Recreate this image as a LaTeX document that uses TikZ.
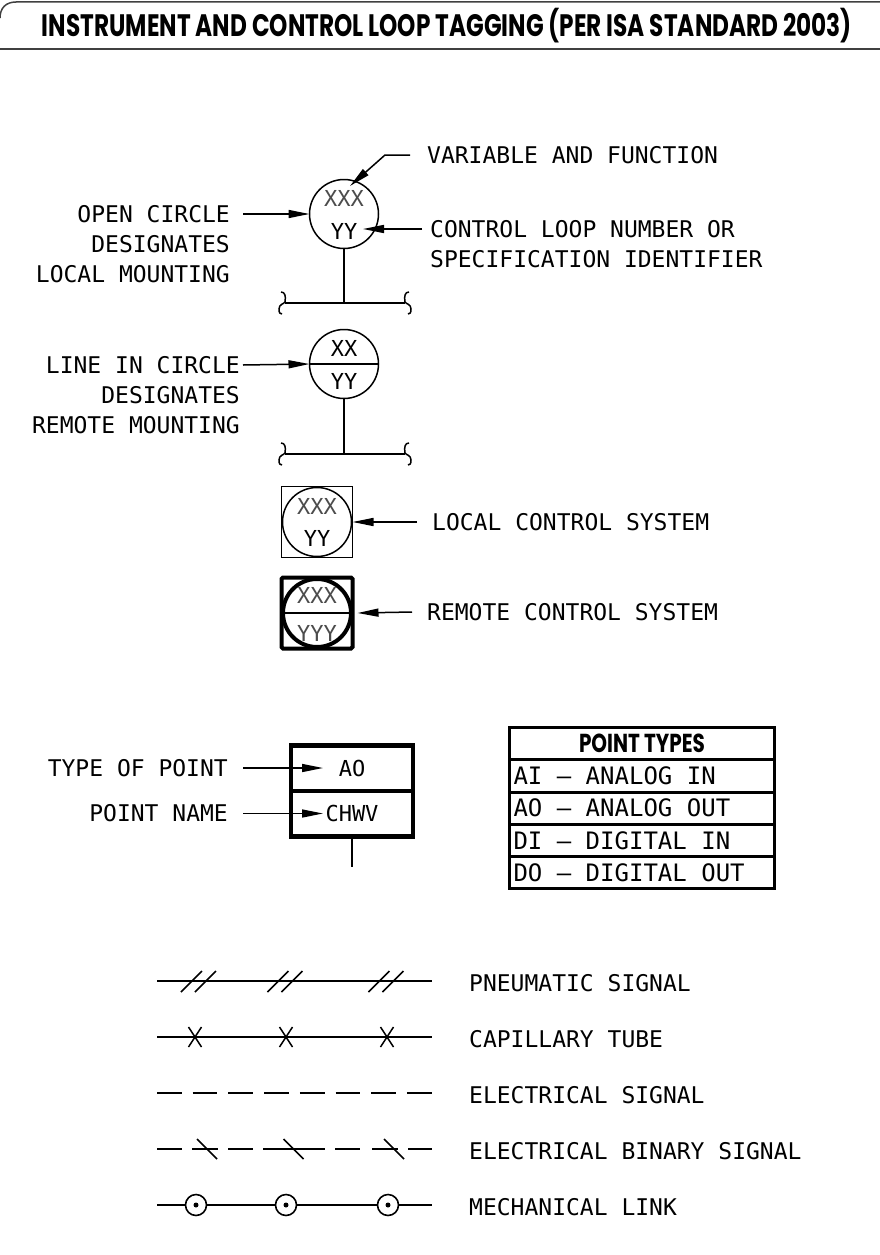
\documentclass[tikz,border=0pt]{standalone}
\usepackage{graphicx}
\usepackage{fontspec}
\setmainfont{DejaVu Sans Mono}
\newfontfamily\headfont{Poppins}
\usetikzlibrary{positioning}
\usetikzlibrary{arrows.meta}
\usetikzlibrary{calc}
\colorlet{hatchCol}{black!70}

\tikzset{
  lbl/.style={font=\fontsize{23}{28}\selectfont, inner sep=0pt},
  tagtxt/.style={font=\fontsize{22}{24}\selectfont, inner sep=0pt},
  instr/.style={circle, draw, line width=1.5pt, minimum size=69pt, inner sep=0pt, outer sep=0pt},
  sysbox/.style={draw, inner sep=0pt, outer sep=0pt},
  tagarrow/.style={line width=1.5pt, -{Triangle[length=21pt,width=8pt]}},
  thinline/.style={line width=1.5pt},
  sigline/.style={line width=1.8pt},
  ptbox/.style={draw, line width=4.5pt, minimum width=122pt, minimum height=45.5pt, inner sep=0pt, outer sep=0pt, font=\fontsize{22}{24}\selectfont},
  tblrow/.style={draw, line width=3pt, minimum width=265pt, inner xsep=4pt, inner ysep=0pt, outer sep=0pt, font=\fontsize{24}{26}\selectfont},
  mlink/.style={circle, draw, fill=white, line width=1.6pt, minimum size=21pt, inner sep=0pt},
  breakmark/.pic={\draw[thinline] (-4,-11) .. controls (0,-11) and (1,-7) .. (0,-1) .. controls (-1,1) and (-6,1) .. (-6,6) .. controls (-6,10) and (-5,11) .. (-3,11);}
}
\newcommand{\rowtext}[1]{\makebox[257pt][l]{#1}}

\begin{document}
\begin{tikzpicture}[x=1pt, y=-1pt]
%--------------------------------------------------
\useasboundingbox[fill=white] (0,0) rectangle (880,1255);

% title bar
\draw[line width=1.5pt, black!75] (0,18) .. controls (0,8) and (6,2) .. (16,2) -- (880,2);
\draw[line width=1.5pt, black!75] (0,49) -- (880,49);
\node[anchor=base, inner sep=0pt] (title) at (447,37) {\resizebox{810pt}{\height}{\headfont\bfseries\fontsize{31}{33}\selectfont INSTRUMENT AND CONTROL LOOP TAGGING (PER ISA STANDARD 2003)}};


% open circle, local mounting
\node[instr] (ocirc) at (344,214) {};
\node[tagtxt, text=hatchCol] (oxxx) at (344,198) {XXX};
\node[tagtxt] (oyy) at (344,231) {YY};

\node[lbl, anchor=west] (varlbl) at (427,155) {VARIABLE AND FUNCTION};
\coordinate (vartip) at (350,186);
\draw[tagarrow] ([xshift=-17pt]varlbl.west) -- ++(-25,0) -- (vartip);

\node[lbl, anchor=east] (ocl1) at (230,214) {OPEN CIRCLE};
\node[lbl, below=12.5pt of ocl1.south east, anchor=north east] (ocl2) {DESIGNATES};
\node[lbl, below=12.5pt of ocl2.south east, anchor=north east] (ocl3) {LOCAL MOUNTING};
\draw[tagarrow] ([xshift=13pt]ocl1.east) -- (ocirc.west);

\node[lbl, anchor=west] (cll1) at (430,229) {CONTROL LOOP NUMBER OR};
\node[lbl, below=12.5pt of cll1.south west, anchor=north west] (cll2) {SPECIFICATION IDENTIFIER};
\coordinate (yytip) at (363,229);
\draw[tagarrow] ([xshift=-8pt]cll1.west) -- (yytip);

\coordinate (obus) at (344,303);
\draw[thinline] (ocirc.south) -- (obus);
\draw[thinline] ([xshift=-59pt]obus) -- ([xshift=61pt]obus);
\pic at ([xshift=-59pt]obus) {breakmark};
\pic[xscale=-1] at ([xshift=61pt]obus) {breakmark};


% line in circle, remote mounting
\node[instr] (rcirc) at (344,364) {};
\draw[thinline] (rcirc.west) -- (rcirc.east);
\node[tagtxt] (rxx) at (344,348) {XX};
\node[tagtxt] (ryy) at (344,381) {YY};

\node[lbl, anchor=east] (lic1) at (240,365) {LINE IN CIRCLE};
\node[lbl, below=12.5pt of lic1.south east, anchor=north east] (lic2) {DESIGNATES};
\node[lbl, below=12.5pt of lic2.south east, anchor=north east] (lic3) {REMOTE MOUNTING};
\draw[tagarrow] ([xshift=3pt]lic1.east) -- (rcirc.west);

\coordinate (rbus) at (344,454);
\draw[thinline] (rcirc.south) -- (rbus);
\draw[thinline] ([xshift=-59pt]rbus) -- ([xshift=61pt]rbus);
\pic at ([xshift=-59pt]rbus) {breakmark};
\pic[xscale=-1] at ([xshift=61pt]rbus) {breakmark};


% local control system
\node[sysbox, line width=1.5pt, minimum size=71pt] (lsq) at (317,522) {};
\node[instr, minimum size=69pt] (lcirc) at (lsq.center) {};
\node[tagtxt, text=hatchCol] (lxxx) at (317,506) {XXX};
\node[tagtxt] (lyy) at (317,538) {YY};
\node[lbl, anchor=west] (lcs) at (432,522) {LOCAL CONTROL SYSTEM};
\draw[tagarrow] ([xshift=-15pt]lcs.west) -- (lsq.east);


% remote control system
\node[sysbox, line width=4pt, minimum size=71pt, rounded corners=1.5pt] (rsq) at (317,613) {};
\node[instr, line width=4pt, minimum size=68pt] (rscirc) at (rsq.center) {};
\draw[line width=2.5pt] (rscirc.west) -- (rscirc.east);
\node[tagtxt, text=hatchCol] (rxxx) at (317,595) {XXX};
\node[tagtxt, text=hatchCol] (ryyy) at (317,633) {YYY};
\node[lbl, anchor=west] (rcs) at (427,612) {REMOTE CONTROL SYSTEM};
\draw[tagarrow] ([xshift=-15pt]rcs.west) -- ([xshift=5pt]rsq.east);


% point box
\node[ptbox] (aobox) at (352,768) {AO};
\node[ptbox, below=0pt of aobox] (namebox) {CHWV};
\draw[thinline] (namebox.south) -- ++(0,31);
\node[lbl, anchor=east] (tpl) at (228,768) {TYPE OF POINT};
\node[lbl, anchor=east] (pnl) at (228,813.5) {POINT NAME};
\draw[tagarrow] ([xshift=15pt]tpl.east) -- ($(aobox.west)+(32,0)$);
\draw[tagarrow] ([xshift=15pt]pnl.east) -- ($(namebox.west)+(32,0)$);


% point types table
\node[tblrow, minimum height=32.5pt] (ptypes) at (642,743.7) {\makebox[257pt]{\resizebox{126pt}{\height}{\headfont\bfseries\fontsize{26}{28}\selectfont POINT TYPES}}};
\node[tblrow, minimum height=32.2pt, below=0pt of ptypes] (rowai) {\rowtext{AI – ANALOG IN}};
\node[tblrow, minimum height=32.2pt, below=0pt of rowai] (rowao) {\rowtext{AO – ANALOG OUT}};
\node[tblrow, minimum height=32.2pt, below=0pt of rowao] (rowdi) {\rowtext{DI – DIGITAL IN}};
\node[tblrow, minimum height=32.2pt, below=0pt of rowdi] (rowdo) {\rowtext{DO – DIGITAL OUT}};


% line types
\coordinate (pnS) at (157,981);
\coordinate (pnE) at (432,981);
\draw[sigline] (pnS) -- (pnE);
\foreach \cx in {198.5,285,386}
  \draw[thinline] (\cx-17.5,992) -- (\cx+3.5,971) (\cx-3.5,992) -- (\cx+17.5,971);
\node[lbl, anchor=west] (pnlbl) at (469,983) {PNEUMATIC SIGNAL};

\coordinate (cpS) at (157,1037);
\coordinate (cpE) at (432,1037);
\draw[sigline] (cpS) -- (cpE);
\foreach \cx in {195,286,387}
  \draw[thinline] (\cx-6.5,1027) -- (\cx+6.5,1047) (\cx-6.5,1047) -- (\cx+6.5,1027);
\node[lbl, anchor=west] (cplbl) at (469,1039) {CAPILLARY TUBE};

\coordinate (elS) at (157,1093);
\coordinate (elE) at (432,1093);
\draw[sigline, dash pattern=on 24.7pt off 11pt] (elS) -- (elE);
\node[lbl, anchor=west] (ellbl) at (469,1095) {ELECTRICAL SIGNAL};

\foreach \xa/\xb in {157/182,192/218,228/253,263/325,335/360,372/398,408/432}
  \draw[sigline] (\xa,1149) -- (\xb,1149);
\foreach \cx in {207,293.5,394}
  \draw[thinline] (\cx-10,1139) -- (\cx+10,1159);
\node[lbl, anchor=west] (eblbl) at (469,1151) {ELECTRICAL BINARY SIGNAL};

\coordinate (mkS) at (157,1205);
\coordinate (mkE) at (432,1205);
\draw[sigline] (mkS) -- (mkE);
\foreach \cx [count=\i] in {196,286,388} {
  \node[mlink] (mk\i) at (\cx,1205) {};
  \fill (mk\i.center) circle[radius=2.5pt];
}
\node[lbl, anchor=west] (mklbl) at (469,1207) {MECHANICAL LINK};

%--------------------------------------------------
\end{tikzpicture}
\end{document}
